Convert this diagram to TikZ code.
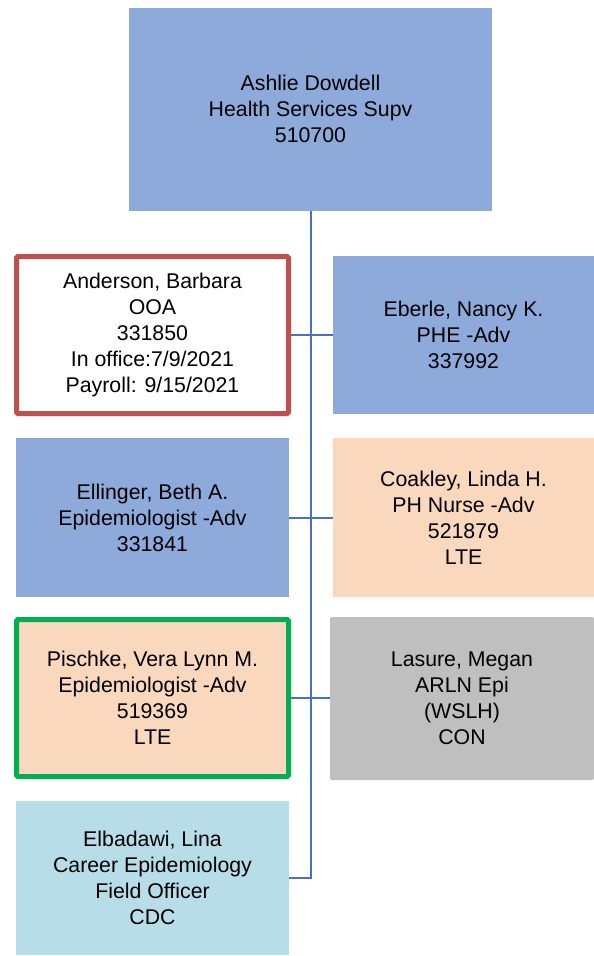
\documentclass[tikz,border=0pt]{standalone}
\usepackage{fontspec}
\setmainfont{Liberation Sans}
\definecolor{boxblue}{HTML}{8EAADB}
\definecolor{boxpeach}{HTML}{F9D8BD}
\definecolor{boxgray}{HTML}{BFBFBF}
\definecolor{boxlight}{HTML}{B7DDE8}
\definecolor{redline}{HTML}{C0504D}
\definecolor{greenline}{HTML}{00B050}
\definecolor{connline}{HTML}{4472C4}
\begin{document}
\begin{tikzpicture}[x=1pt,y=-1pt,
  person/.style={inner sep=0pt, align=center, font=\fontsize{21.3}{26}\selectfont, text=black},
  conn/.style={draw=connline, line width=2pt}]
\useasboundingbox[fill=white] (0,0) rectangle (594,956);
\node[person, fill=boxblue, minimum width=363pt, minimum height=203pt] (top) at (310.5,109) {Ashlie Dowdell\\Health Services Supv\\510700};
\node[person, fill=white, draw=redline, line width=5pt, rounded corners=1.5pt, minimum width=272pt, minimum height=157pt] (and) at (152.5,335) {Anderson, Barbara\\OOA\\331850\\In office:7/9/2021\\Payroll: 9/15/2021};
\node[person, fill=boxblue, minimum width=261pt, minimum height=158pt] (ebe) at (463.5,335) {Eberle, Nancy K.\\PHE -Adv\\337992};
\node[person, fill=boxblue, minimum width=273pt, minimum height=159pt] (ell) at (152.5,517.5) {Ellinger, Beth A.\\Epidemiologist -Adv\\331841};
\node[person, fill=boxpeach, minimum width=261pt, minimum height=159pt] (coa) at (463.5,517.5) {Coakley, Linda H.\\PH Nurse -Adv\\521879\\LTE};
\node[person, fill=boxpeach, draw=greenline, line width=5pt, rounded corners=1.5pt, minimum width=272pt, minimum height=157pt] (pis) at (152.5,698) {Pischke, Vera Lynn M.\\Epidemiologist -Adv\\519369\\LTE};
\node[person, fill=boxgray, rounded corners=2pt, minimum width=264pt, minimum height=163pt] (las) at (462,698.5) {Lasure, Megan\\ARLN Epi\\(WSLH)\\CON};
\node[person, fill=boxlight, minimum width=273pt, minimum height=154pt] (elb) at (152.5,878) {Elbadawi, Lina\\Career Epidemiology\\Field Officer\\CDC};
\draw[conn] (top.south) |- (elb.east);
\draw[conn] (and.east) -- (ebe.west);
\draw[conn] (ell.east) -- (coa.west);
\draw[conn] (pis.east) -- (pis.east -| las.west);
\end{tikzpicture}
\end{document}
